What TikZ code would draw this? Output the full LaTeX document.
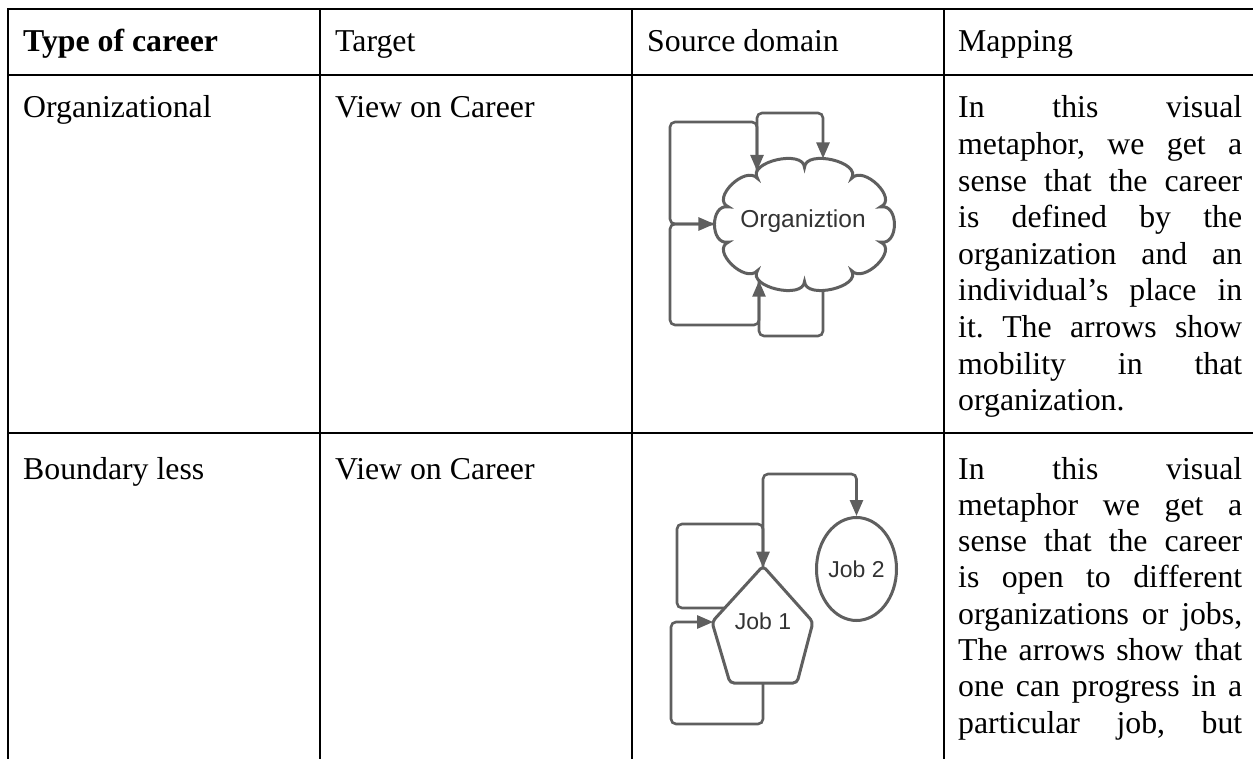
\documentclass[tikz,border=0pt]{standalone}
\usepackage{fontspec}
\setmainfont{Liberation Serif}
\newfontfamily\diagfont{Liberation Sans}
\usetikzlibrary{arrows.meta,shapes.geometric,calc,intersections}
\definecolor{flowgray}{HTML}{5F5F5F}
\definecolor{labelgray}{HTML}{333333}
\frenchspacing

\begin{document}
\begin{tikzpicture}[x=1pt,y=-1pt,
  rule/.style={line width=2pt, draw=black, line cap=rect},
  cell/.style={anchor=base west, inner sep=0pt, font=\fontsize{31.8}{36.6}\selectfont},
  headcell/.style={cell, font=\fontsize{31.8}{36.6}\selectfont\bfseries},
  outline/.style={draw=flowgray, line width=3pt, fill=white},
  diaglabel/.style={font=\diagfont\fontsize{23}{27}\selectfont, text=labelgray},
  flow/.style={draw=flowgray, line width=2.6pt, rounded corners=5pt,
    -{Triangle[length=16pt,width=13pt]}},
]
\useasboundingbox (0,0) rectangle (1253,759);

% ---------- table rules ----------
\draw[rule] (8,9) -- (1253,9);
\draw[rule] (8,75) -- (1253,75);
\draw[rule] (8,433) -- (1253,433);
\foreach \x in {8,320,632,944}
  \draw[rule] (\x,9) -- (\x,760);

% ---------- header ----------
\node[headcell] (h1) at (23,52) {Type of career};
\node[cell] (h2) at (335,52) {Target};
\node[cell] (h3) at (647,52) {Source domain};
\node[cell] (h4) at (958,52) {Mapping};

% ---------- row 1 ----------
\node[cell] (r1type) at (23,118) {Organizational};
\node[cell] (r1target) at (335,118) {View on Career};
\foreach \txt [count=\i] in {{In this visual},{metaphor, we get a},{sense that the career},{is defined by the},{organization and an},{individual’s place in},{it. The arrows show},{mobility in that}}
  \node[cell] (mapA\i) at (958,{118+36.6*(\i-1)}) {\makebox[284pt][s]{\txt}};
\node[cell] (mapA9) at (958,{118+36.6*8}) {organization.};

% ---------- row 2 ----------
\node[cell] (r2type) at (23,479) {Boundary less};
\node[cell] (r2target) at (335,479) {View on Career};
\foreach \txt [count=\i] in {{In this visual},{metaphor we get a},{sense that the career},{is open to different},{organizations or jobs,},{The arrows show that},{one can progress in a},{particular job, but}}
  \node[cell] (mapB\i) at (958,{479+36.3*(\i-1)}) {\makebox[284pt][s]{\txt}};

% ---------- organizational career: cloud ----------
% puff tips on an outer ellipse, notches between them on an inner one
\foreach \k in {0,...,9} {
  \coordinate (p\k) at ({804.5+90*cos(180+36*\k)},{224.5-68*sin(180+36*\k)});
  \coordinate (v\k) at ({804.5+80*cos(198+36*\k)},{224.5-57*sin(198+36*\k)});
}
\path[outline, name path=cloudedge] (v9)
  \foreach \k [remember=\k as \lastk (initially 9)] in {0,...,9} {
    .. controls ($0.4333*(v\lastk)+1.3333*(p\k)-0.7667*(v\k)$)
            and ($0.4333*(v\k)+1.3333*(p\k)-0.7667*(v\lastk)$) .. (v\k)
  } -- cycle;
\node[diaglabel, font=\diagfont\fontsize{24.5}{28}\selectfont] (org) at (803,221) {Organiztion};

% entry and exit points on the cloud border
\path[name path=cutT1] (757,100) -- (757,200);
\path[name path=cutT2] (823,100) -- (823,200);
\path[name path=cutB1] (759,250) -- (759,330);
\path[name path=cutB2] (823,250) -- (823,330);
\path[name path=cutL] (690,224) -- (780,224);
\path[name intersections={of=cloudedge and cutT1, by=orgT1}];
\path[name intersections={of=cloudedge and cutT2, by=orgT2}];
\path[name intersections={of=cloudedge and cutB1, by=orgB1}];
\path[name intersections={of=cloudedge and cutB2, by=orgB2}];
\path[name intersections={of=cloudedge and cutL, by=orgL}];

% mobility loops round the cloud
\draw[flow] (orgT1) |- (823,113) -- (orgT2);
\draw[flow] (orgL) -- (670,224) |- (757,122) -- (orgT1);
\draw[flow] (orgB2) |- (759,336) -- (orgB1);
\draw[flow] (orgB1) |- (670,325) |- (orgL);

% ---------- boundaryless career: jobs ----------
\coordinate (j1top) at (763,566);
\coordinate (j1right) at (813,622);
\coordinate (j1br) at (797,683);
\coordinate (j1bl) at (730,683);
\coordinate (j1left) at (712,622);
\path[outline, rounded corners=4pt, name path=jobedge]
  (j1top) -- (j1right) -- (j1br) -- (j1bl) -- (j1left) -- cycle;
\node[diaglabel] (job1) at (763,621) {Job 1};
\node[outline, ellipse, minimum width=80pt, minimum height=103pt, inner sep=0pt, diaglabel] (job2) at (856.5,569) {Job 2};

\path[name path=cutJT] (763,470) -- (763,600);
\path[name path=cutJB] (763,650) -- (763,760);
\path[name path=cutJL] (650,622) -- (740,622);
\path[name path=cutJE] (650,608) -- (745,608);
\path[name intersections={of=jobedge and cutJT, by=j1in}];
\path[name intersections={of=jobedge and cutJB, by=j1out}];
\path[name intersections={of=jobedge and cutJL, by=j1inL}];
\path[name intersections={of=jobedge and cutJE, by=j1edge}];

\draw[flow] (j1in) |- ($(job2.north)+(0,-42)$) -- (job2.north);
\draw[flow] (j1edge) -- (677,608) |- (763,524) -- (j1in);
\draw[flow] (j1out) |- (671,724) |- (j1inL);
\end{tikzpicture}
\end{document}
